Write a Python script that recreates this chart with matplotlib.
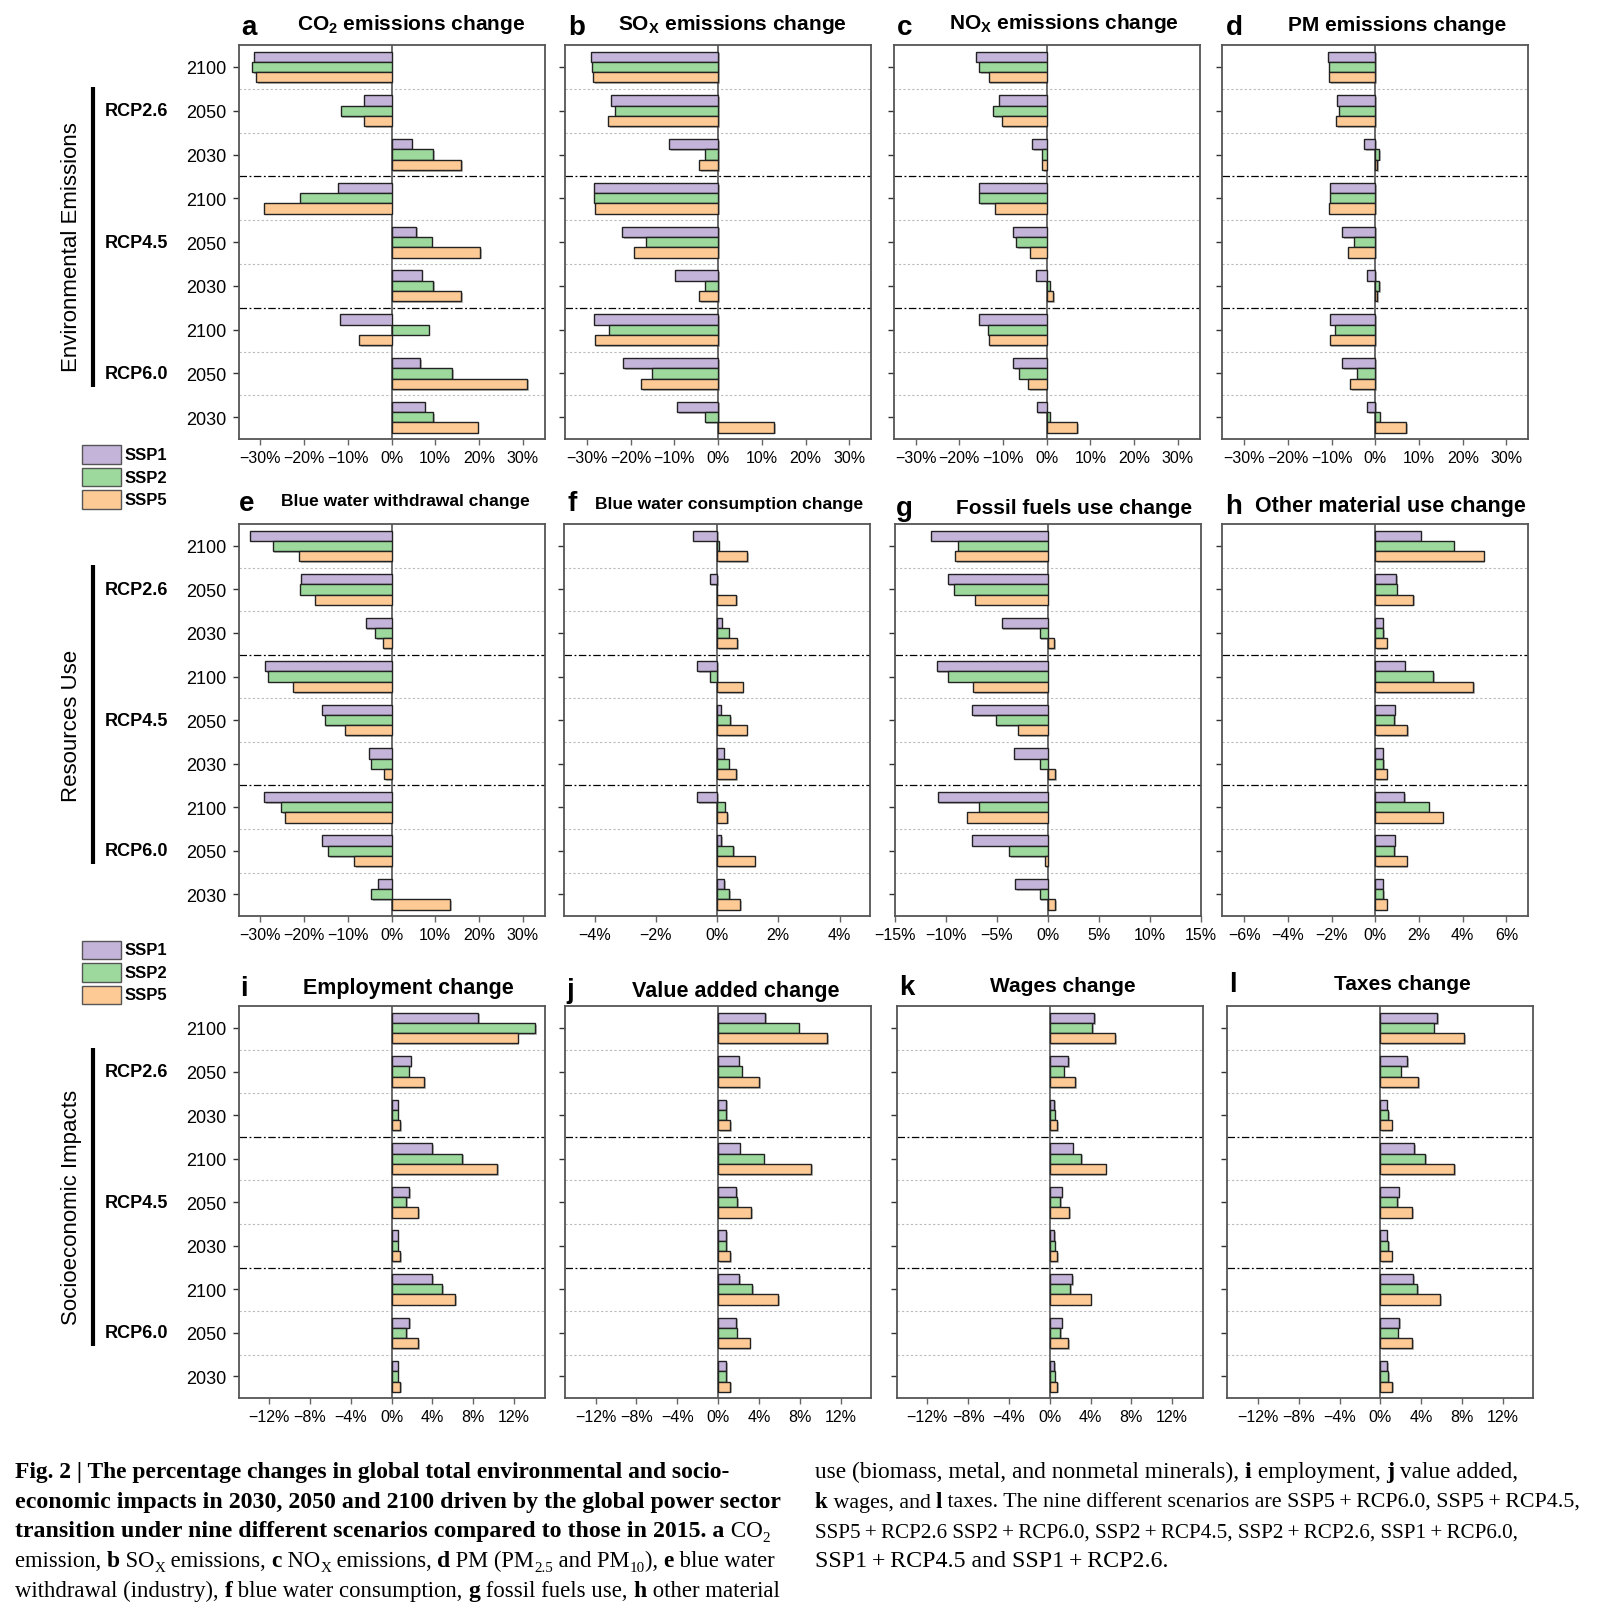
import matplotlib
matplotlib.use('Agg')
import matplotlib.pyplot as plt
import matplotlib.patheffects as pe
from matplotlib.patches import Rectangle
from matplotlib.lines import Line2D
from matplotlib.transforms import blended_transform_factory
from matplotlib.ticker import FuncFormatter
from matplotlib.font_manager import FontProperties

plt.rcParams['font.family'] = ['Liberation Sans', 'DejaVu Sans']
plt.rcParams['mathtext.fontset'] = 'custom'
plt.rcParams['mathtext.rm'] = 'Liberation Sans'
plt.rcParams['mathtext.bf'] = 'Liberation Sans:bold'
plt.rcParams['mathtext.default'] = 'regular'

# ---- data (percent change vs 2015), rows: SSP1, SSP2, SSP5 ----
# group order top->bottom: RCP2.6 2100/2050/2030, RCP4.5 ..., RCP6.0 ...
years = ['2100', '2050', '2030'] * 3
rcps = ['RCP2.6', 'RCP4.5', 'RCP6.0']
ssps = ['SSP1', 'SSP2', 'SSP5']
colors = ['#c4b4d9', '#9dd99c', '#fdc995']

co2 = [[-31.5, -6.4, 4.6, -12.3, 5.6, 6.9, -11.7, 6.5, 7.6],
       [-31.9, -11.6, 9.5, -21.0, 9.2, 9.5, 8.5, 13.8, 9.5],
       [-31.0, -6.2, 15.9, -29.1, 20.2, 15.9, -7.4, 31.0, 19.7]]
sox = [[-29.0, -24.6, -11.2, -28.3, -22.0, -9.8, -28.3, -21.7, -9.4],
       [-28.8, -23.5, -3.1, -28.3, -16.6, -3.1, -25.0, -15.2, -3.1],
       [-28.5, -25.2, -4.4, -28.2, -19.3, -4.4, -28.2, -17.6, 12.8]]
nox = [[-16.2, -10.9, -3.4, -15.5, -7.7, -2.4, -15.5, -7.6, -2.3],
       [-15.4, -12.2, -1.1, -15.4, -7.0, 0.7, -13.5, -6.4, 0.7],
       [-13.3, -10.3, -1.1, -11.8, -3.8, 1.5, -13.3, -4.3, 6.9]]
pm = [[-10.8, -8.7, -2.6, -10.4, -7.6, -1.9, -10.4, -7.6, -1.8],
      [-10.6, -8.2, 0.9, -10.4, -4.9, 0.9, -9.2, -4.3, 1.0],
      [-10.5, -9.0, 0.5, -10.5, -6.3, 0.5, -10.4, -5.7, 7.0]]
withdrawal = [[-32.3, -20.6, -5.9, -28.9, -15.8, -5.1, -29.1, -16.0, -3.0],
              [-27.2, -21.0, -3.7, -28.2, -15.3, -4.6, -25.2, -14.5, -4.6],
              [-21.2, -17.6, -2.0, -22.5, -10.7, -1.7, -24.4, -8.6, 13.4]]
consumption = [[-0.79, -0.24, 0.15, -0.66, 0.12, 0.22, -0.65, 0.13, 0.23],
               [0.05, 0.0, 0.38, -0.23, 0.43, 0.38, 0.25, 0.53, 0.39],
               [0.98, 0.63, 0.66, 0.84, 0.97, 0.62, 0.32, 1.23, 0.75]]
fossil = [[-11.4, -9.8, -4.5, -10.9, -7.4, -3.3, -10.8, -7.4, -3.2],
          [-8.8, -9.2, -0.8, -9.8, -5.1, -0.8, -6.7, -3.8, -0.8],
          [-9.1, -7.1, 0.6, -7.3, -2.9, 0.7, -7.9, -0.3, 0.7]]
material = [[2.08, 0.95, 0.34, 1.34, 0.89, 0.34, 1.33, 0.89, 0.34],
            [3.59, 0.98, 0.37, 2.66, 0.86, 0.37, 2.44, 0.86, 0.37],
            [4.96, 1.73, 0.52, 4.47, 1.45, 0.52, 3.08, 1.44, 0.52]]
employment = [[8.5, 1.87, 0.59, 3.97, 1.71, 0.59, 3.97, 1.71, 0.59],
              [14.1, 1.67, 0.59, 6.93, 1.41, 0.59, 4.96, 1.41, 0.59],
              [12.35, 3.19, 0.82, 10.38, 2.59, 0.82, 6.24, 2.59, 0.82]]
value_added = [[4.63, 2.0, 0.79, 2.10, 1.77, 0.76, 2.07, 1.77, 0.76],
               [7.88, 2.30, 0.79, 4.47, 1.84, 0.79, 3.32, 1.81, 0.79],
               [10.71, 4.0, 1.15, 9.13, 3.22, 1.15, 5.88, 3.09, 1.15]]
wages = [[4.33, 1.83, 0.40, 2.23, 1.17, 0.40, 2.17, 1.17, 0.40],
         [4.17, 1.37, 0.47, 3.07, 1.00, 0.47, 1.97, 1.00, 0.47],
         [6.43, 2.47, 0.73, 5.47, 1.87, 0.73, 4.00, 1.80, 0.73]]
taxes = [[5.53, 2.63, 0.60, 3.30, 1.80, 0.60, 3.23, 1.83, 0.63],
         [5.23, 2.00, 0.73, 4.37, 1.63, 0.73, 3.57, 1.70, 0.73],
         [8.20, 3.70, 1.10, 7.20, 3.10, 1.10, 5.87, 3.10, 1.13]]

t30 = [-30, -20, -10, 0, 10, 20, 30]
t12 = [-12, -8, -4, 0, 4, 8, 12]
panels = [
    ('a', r'CO$_\mathbf{2}$ emissions change', co2, (-35, 35), t30),
    ('b', r'SO$_\mathbf{X}$ emissions change', sox, (-35, 35), t30),
    ('c', r'NO$_\mathbf{X}$ emissions change', nox, (-35, 35), t30),
    ('d', 'PM emissions change', pm, (-35, 35), t30),
    ('e', 'Blue water withdrawal change', withdrawal, (-35, 35), t30),
    ('f', 'Blue water consumption change', consumption, (-5, 5), [-4, -2, 0, 2, 4]),
    ('g', 'Fossil fuels use change', fossil, (-15, 15), [-15, -10, -5, 0, 5, 10, 15]),
    ('h', 'Other material use change', material, (-7, 7), [-6, -4, -2, 0, 2, 4, 6]),
    ('i', 'Employment change', employment, (-15, 15), t12),
    ('j', 'Value added change', value_added, (-15, 15), t12),
    ('k', 'Wages change', wages, (-15, 15), t12),
    ('l', 'Taxes change', taxes, (-15, 15), t12),
]
row_names = ['Environmental Emissions', 'Resources Use', 'Socioeconomic Impacts']

# ---- layout, measured on the reference scan (1563 x 1569 px) ----
W0, H0 = 1563.0, 1569.0
fx = lambda x: x / W0
fy = lambda y: 1 - y / H0
row_top = [45, 513, 984]
row_bot = [430, 896, 1367]
col_left = [[233, 552, 873, 1194], [233, 551, 874, 1194], [233, 552, 876, 1199]]
ax_w = 299
# letter x, letter y, title centre x, title y, title size
title_pos = [(243, 27, 402, 24, 15), (563, 27, 715, 24, 15), (884, 27, 1039, 23, 15),
             (1206, 27, 1365, 25, 15), (241, 492, 396, 490, 12.5), (559, 492, 712, 493, 12.5),
             (883, 497, 1049, 497, 15), (1205, 495, 1358, 495, 15.5), (238, 966, 399, 966, 15.5),
             (557, 968, 719, 969, 15.5), (886, 965, 1038, 964, 15), (1204, 962, 1370, 962, 15)]

fig = plt.figure(figsize=(16, 16.06), dpi=100)
pct = FuncFormatter(lambda v, p: f'{v:g}%'.replace('-', '\u2212'))
bar_h = 0.235
offsets = [-bar_h, 0, bar_h]

first_axes = []
for k, (letter, title, data, xlim, ticks) in enumerate(panels):
    r, c = divmod(k, 4)
    left = col_left[r][c]
    ax = fig.add_axes([fx(left), fy(row_bot[r]), ax_w / W0, (row_bot[r] - row_top[r]) / H0])
    groups = list(range(9))
    for s in range(3):
        ax.barh([g + offsets[s] for g in groups], data[s], height=bar_h, color=colors[s],
                edgecolor='#222222', linewidth=1.0, zorder=3, label=ssps[s],
                path_effects=[pe.SimplePatchShadow(offset=(1.2, -1.2), alpha=0.35), pe.Normal()])
    ax.axvline(0, color='#6a6a6a', lw=1.4, zorder=2)
    for b in [0.5, 1.5, 3.5, 4.5, 6.5, 7.5]:
        ax.axhline(b, color='#bbbbbb', lw=0.8, ls=(0, (2, 2)), zorder=1)
    for b in [2.5, 5.5]:
        ax.axhline(b, color='black', lw=0.9, ls=(0, (6, 2, 1.5, 2)), zorder=1)
    ax.set_ylim(8.5, -0.5)
    ax.set_xlim(*xlim)
    ax.set_xticks(ticks)
    ax.xaxis.set_major_formatter(pct)
    ax.set_yticks(groups)
    if c == 0:
        ax.set_yticklabels(years, fontsize=13)
        first_axes.append(ax)
    else:
        ax.set_yticklabels([])
    ax.tick_params(axis='x', labelsize=11.5, length=4, width=1, color='#666666', pad=4)
    ax.tick_params(axis='y', length=4, width=1, color='#333333', pad=5)
    for sp in ax.spines.values():
        sp.set_color('#555555')
        sp.set_linewidth(1.3)

    lx, ly, tx, ty, ts = title_pos[k]
    fig.text(fx(lx), fy(ly), letter, fontsize=20, fontweight='bold', ha='center', va='center')
    fig.text(fx(tx), fy(ty), title, fontsize=ts, fontweight='bold', ha='center', va='center')

# row labels: RCP names, black bars, group names
for r, ax in enumerate(first_axes):
    tr = blended_transform_factory(fig.transFigure, ax.transData)
    for j, name in enumerate(rcps):
        ax.text(fx(133), 3 * j + 1, name, transform=tr, fontsize=13, fontweight='bold',
                ha='center', va='center')
    fig.add_artist(Line2D([fx(91), fx(91)], [0.45, 7.3], transform=tr, color='black',
                          lw=3, solid_capstyle='butt'))
    ax.text(fx(70), 4.1, row_names[r], transform=tr, rotation=90, fontsize=16,
            ha='center', va='center')

# legends
for ys in ([445, 467, 489], [929, 951, 973]):
    for s in range(3):
        fig.add_artist(Rectangle((fx(80), fy(ys[s] + 9)), 38 / W0, 18 / H0,
                                 transform=fig.transFigure, facecolor=colors[s],
                                 edgecolor='#555555', lw=1))
        fig.text(fx(122), fy(ys[s]), ssps[s], fontsize=12, fontweight='bold', va='center')

# caption
cap_family = ['Liberation Serif', 'DejaVu Serif']
renderer = fig.canvas.get_renderer()


def seg_width(s, size, bold):
    prop = FontProperties(family=cap_family, size=size, weight='bold' if bold else 'normal')
    w1 = renderer.get_text_width_height_descent('|' + s + '|', prop, ismath=False)[0]
    w0 = renderer.get_text_width_height_descent('||', prop, ismath=False)[0]
    return (w1 - w0) / fig.bbox.width


cap_size = 10 * (763 / 1600) / seg_width(
    'economic impacts in 2030, 2050 and 2100 driven by the global power sector', 10, True)
reg_size = cap_size * 0.965


def seg_size(st, scale):
    if st == 's':
        return reg_size * 0.66 * scale
    return (cap_size if st == 'b' else reg_size) * scale


def cap_line(x0, x1, y, segs):
    # fit the line so that it ends where it ends in the reference
    natural = sum(seg_width(t, seg_size(st, 1), st == 'b') for t, st in segs)
    scale = min(1.04, fx(x1 - x0) / natural)
    x = fx(x0)
    for txt, st in segs:
        size = seg_size(st, scale)
        bold = st == 'b'
        yy = y - (reg_size * scale * 0.22 / 72) / fig.get_figheight() if st == 's' else y
        fig.text(x, yy, txt, fontsize=size, fontweight='bold' if bold else 'normal',
                 family=cap_family, va='baseline', ha='left')
        x += seg_width(txt, size, bold)


P = '\u2009+\u2009'
left_lines = [
    [('Fig. 2 | The percentage changes in global total environmental and socio-', 'b')],
    [('economic impacts in 2030, 2050 and 2100 driven by the global power sector', 'b')],
    [('transition under nine different scenarios compared to those in 2015. a', 'b'),
     (' CO', 'r'), ('2', 's')],
    [('emission, ', 'r'), ('b', 'b'), (' SO', 'r'), ('X', 's'), (' emissions, ', 'r'),
     ('c', 'b'), (' NO', 'r'), ('X', 's'), (' emissions, ', 'r'), ('d', 'b'),
     (' PM (PM', 'r'), ('2.5', 's'), (' and PM', 'r'), ('10', 's'), ('), ', 'r'),
     ('e', 'b'), (' blue water', 'r')],
    [('withdrawal (industry), ', 'r'), ('f', 'b'), (' blue water consumption, ', 'r'),
     ('g', 'b'), (' fossil fuels use, ', 'r'), ('h', 'b'), (' other material', 'r')],
]
left_ends = [713, 760, 748, 760, 762]
right_lines = [
    [('use (biomass, metal, and nonmetal minerals), ', 'r'), ('i', 'b'), (' employment, ', 'r'),
     ('j', 'b'), (' value added,', 'r')],
    [('k', 'b'), (' wages, and ', 'r'), ('l', 'b'),
     (f' taxes. The nine different scenarios are SSP5{P}RCP6.0, SSP5{P}RCP4.5,', 'r')],
    [(f'SSP5{P}RCP2.6 SSP2{P}RCP6.0, SSP2{P}RCP4.5, SSP2{P}RCP2.6, SSP1{P}RCP6.0,', 'r')],
    [(f'SSP1{P}RCP4.5 and SSP1{P}RCP2.6.', 'r')],
]
right_ends = [1484, 1545, 1485, 1318]
base_y = [1444, 1473, 1502, 1531, 1560]
for i, segs in enumerate(left_lines):
    cap_line(15, left_ends[i], fy(base_y[i]), segs)
for i, segs in enumerate(right_lines):
    cap_line(796, right_ends[i], fy(base_y[i]), segs)

fig.savefig('out.png', dpi=100)
